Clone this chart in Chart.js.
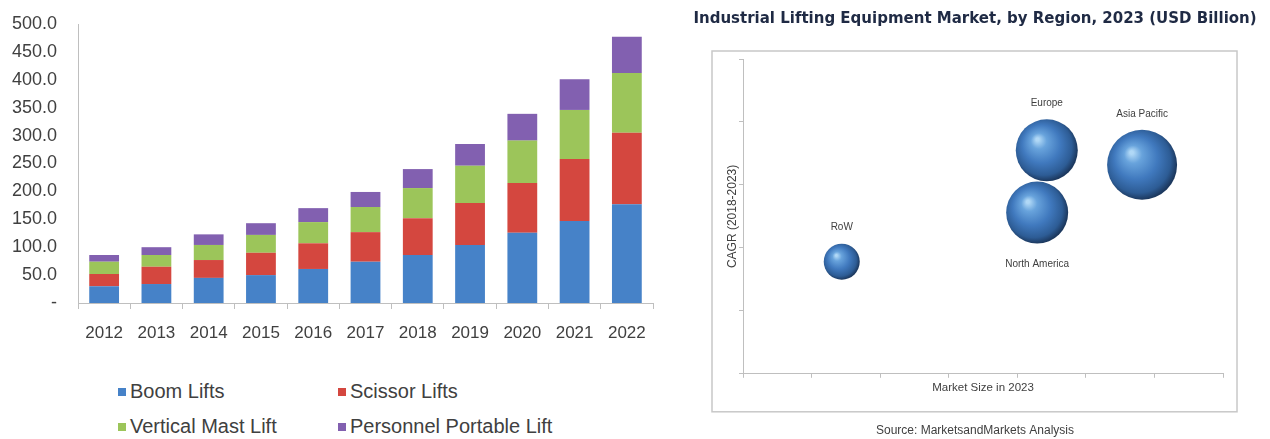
<!DOCTYPE html>
<html>
<head>
<meta charset="utf-8">
<script src="https://cdn.jsdelivr.net/npm/chart.js@4.4.0/dist/chart.umd.min.js"></script>
<style>
body { margin:0; background:#fff; width:1270px; height:439px; overflow:hidden; position:relative; font-family:'Liberation Sans', Arial, sans-serif; }
#caixaBarras { position:absolute; left:0; top:0; width:680px; height:360px; }
#caixaBolhas { position:absolute; left:680px; top:0; width:590px; height:439px; }
#legenda { position:absolute; left:118px; top:374px; display:grid; grid-template-columns:220px 250px; grid-auto-rows:35px; }
.item { display:flex; align-items:center; font-size:20px; color:#404040; white-space:nowrap; }
.quadrado { width:8px; height:8px; margin-right:4px; }
</style>
</head>
<body>
<div id="caixaBarras"><canvas id="graficoBarras"></canvas></div>
<div id="legenda"></div>
<div id="caixaBolhas"><canvas id="graficoBolhas"></canvas></div>
<script>
// dados do grafico de barras (USD bilhoes)
var anos = ['2012', '2013', '2014', '2015', '2016', '2017', '2018', '2019', '2020', '2021', '2022'];
var boomLifts = [30, 34, 45, 50, 61, 74, 86, 104, 126, 147, 177];
var scissorLifts = [22, 31, 32, 40, 46, 53, 66, 75, 89, 111, 128];
var verticalMastLift = [22, 21, 27, 32, 38, 45, 54, 67, 76, 88, 107];
var personnelPortableLift = [12, 14, 19, 21, 25, 27, 34, 39, 48, 55, 65];

// dados do grafico de bolhas
var regioes = ['RoW', 'Europe', 'North America', 'Asia Pacific'];
var tamanhoMercado = [1.44, 4.43, 4.29, 5.82];
var cagr = [1.78, 3.55, 2.56, 3.32];
var tamanhoBolha = [18, 31, 31, 35];

var fonte = "'Liberation Sans', Arial, sans-serif";
var corTexto = '#404040';
var corEixo = '#bfbfbf';

var series = [
    { label: 'Boom Lifts', data: boomLifts, backgroundColor: '#4682c8' },
    { label: 'Scissor Lifts', data: scissorLifts, backgroundColor: '#d4473f' },
    { label: 'Vertical Mast Lift', data: verticalMastLift, backgroundColor: '#9cc55a' },
    { label: 'Personnel Portable Lift', data: personnelPortableLift, backgroundColor: '#8260b0' }
];
series.forEach(function (s) {
    s.borderWidth = 0;
    s.barPercentage = 0.57;
    s.categoryPercentage = 1;
});

new Chart(document.getElementById('graficoBarras'), {
    type: 'bar',
    data: { labels: anos, datasets: series },
    options: {
        responsive: true,
        maintainAspectRatio: false,
        animation: false,
        events: [],
        layout: { padding: { left: 12, right: 27, top: 24, bottom: 18 } },
        plugins: { legend: { display: false }, tooltip: { enabled: false } },
        scales: {
            x: {
                stacked: true,
                grid: { display: true, drawOnChartArea: false, drawTicks: true, tickLength: 6, color: corEixo },
                border: { display: true, color: corEixo },
                ticks: { color: corTexto, font: { family: fonte, size: 17 }, padding: 14 },
                afterFit: function (scale) { scale.height = 39; }
            },
            y: {
                stacked: true,
                min: 0,
                max: 500,
                grid: { display: false, drawTicks: false },
                border: { display: true, color: corEixo },
                ticks: {
                    stepSize: 50,
                    color: corTexto,
                    font: { family: fonte, size: 18 },
                    padding: 21,
                    callback: function (v) { return v === 0 ? '-' : v.toFixed(1); }
                },
                afterFit: function (scale) { scale.width = 66; scale.paddingTop = 0; }
            }
        }
    }
});

// legenda em html, 2 colunas
var legenda = document.getElementById('legenda');
series.forEach(function (s) {
    var item = document.createElement('div');
    item.className = 'item';
    item.innerHTML = '<span class="quadrado" style="background:' + s.backgroundColor + '"></span>' + s.label;
    legenda.appendChild(item);
});

// bolha com aspecto de esfera
function esfera(ctx) {
    var chart = ctx.chart;
    if (ctx.type !== 'data' || !chart.chartArea || !chart.scales.x) return '#3f78be';
    var cx = chart.scales.x.getPixelForValue(ctx.raw.x);
    var cy = chart.scales.y.getPixelForValue(ctx.raw.y);
    var r = ctx.raw.r;
    var g = chart.ctx.createRadialGradient(cx - r * 0.3, cy - r * 0.35, r * 0.05, cx - r * 0.08, cy - r * 0.08, r * 1.08);
    g.addColorStop(0, '#b0d8f6');
    g.addColorStop(0.2, '#68a3dc');
    g.addColorStop(0.55, '#4079be');
    g.addColorStop(0.85, '#2d5c95');
    g.addColorStop(1, '#1c385e');
    return g;
}

var pontos = regioes.map(function (nome, i) {
    return { x: tamanhoMercado[i], y: cagr[i], r: tamanhoBolha[i] };
});
var rotuloAbaixo = [false, false, true, false];

var moldura = {
    id: 'moldura',
    beforeDraw: function (chart) {
        var a = chart.chartArea, c = chart.ctx;
        c.save();
        c.strokeStyle = '#c8c8c8';
        c.lineWidth = 1.5;
        c.strokeRect(a.left - 31, a.top - 8, a.right - a.left + 45, a.bottom - a.top + 46);
        c.restore();
    }
};

var rotulos = {
    id: 'rotulos',
    afterDatasetsDraw: function (chart) {
        var c = chart.ctx;
        var meta = chart.getDatasetMeta(0);
        c.save();
        c.font = '10px ' + fonte;
        c.fillStyle = corTexto;
        c.textAlign = 'center';
        c.textBaseline = 'middle';
        meta.data.forEach(function (el, i) {
            var r = el.options.radius;
            var y = rotuloAbaixo[i] ? el.y + r + 21 : el.y - r - 16;
            c.fillText(regioes[i], el.x, y);
        });
        c.restore();
    }
};

new Chart(document.getElementById('graficoBolhas'), {
    type: 'bubble',
    data: {
        datasets: [{
            label: 'Regiões',
            data: pontos,
            backgroundColor: esfera,
            borderWidth: 0
        }]
    },
    plugins: [moldura, rotulos],
    options: {
        responsive: true,
        maintainAspectRatio: false,
        animation: false,
        events: [],
        layout: { padding: { left: 12, right: 12, top: 0, bottom: 0 } },
        plugins: {
            legend: { display: false },
            tooltip: { enabled: false },
            title: {
                display: true,
                text: 'Industrial Lifting Equipment Market, by Region, 2023 (USD Billion)',
                color: '#1f2a44',
                font: { family: "'DejaVu Sans', sans-serif", size: 15, weight: 'bold' },
                padding: { top: 10, bottom: 31 }
            },
            subtitle: {
                display: true,
                position: 'bottom',
                text: 'Source: MarketsandMarkets Analysis',
                color: corTexto,
                font: { family: fonte, size: 12 },
                padding: { top: 25, bottom: 1 }
            }
        },
        scales: {
            x: {
                type: 'linear',
                min: 0,
                max: 7,
                ticks: { stepSize: 1, display: false },
                grid: { display: true, drawOnChartArea: false, drawTicks: true, tickLength: 4, color: corEixo },
                border: { display: true, color: corEixo },
                title: { display: true, text: 'Market Size in 2023', color: corTexto, font: { family: fonte, size: 11.5 }, padding: { top: 3, bottom: 4 } }
            },
            y: {
                type: 'linear',
                min: 0,
                max: 5,
                ticks: { stepSize: 1, display: false },
                grid: { display: true, drawOnChartArea: false, drawTicks: true, tickLength: 4, color: corEixo },
                border: { display: true, color: corEixo },
                title: { display: true, text: 'CAGR (2018-2023)', color: corTexto, font: { family: fonte, size: 12 }, padding: { top: 33, bottom: 4 } },
                afterFit: function (scale) { scale.width = 51; }
            },
            // eixo vazio a direita, so para reservar a margem
            margemDireita: {
                type: 'linear',
                position: 'right',
                display: true,
                ticks: { display: false },
                grid: { display: false },
                border: { display: false },
                afterFit: function (scale) { scale.width = 35; }
            }
        }
    }
});
</script>
</body>
</html>
